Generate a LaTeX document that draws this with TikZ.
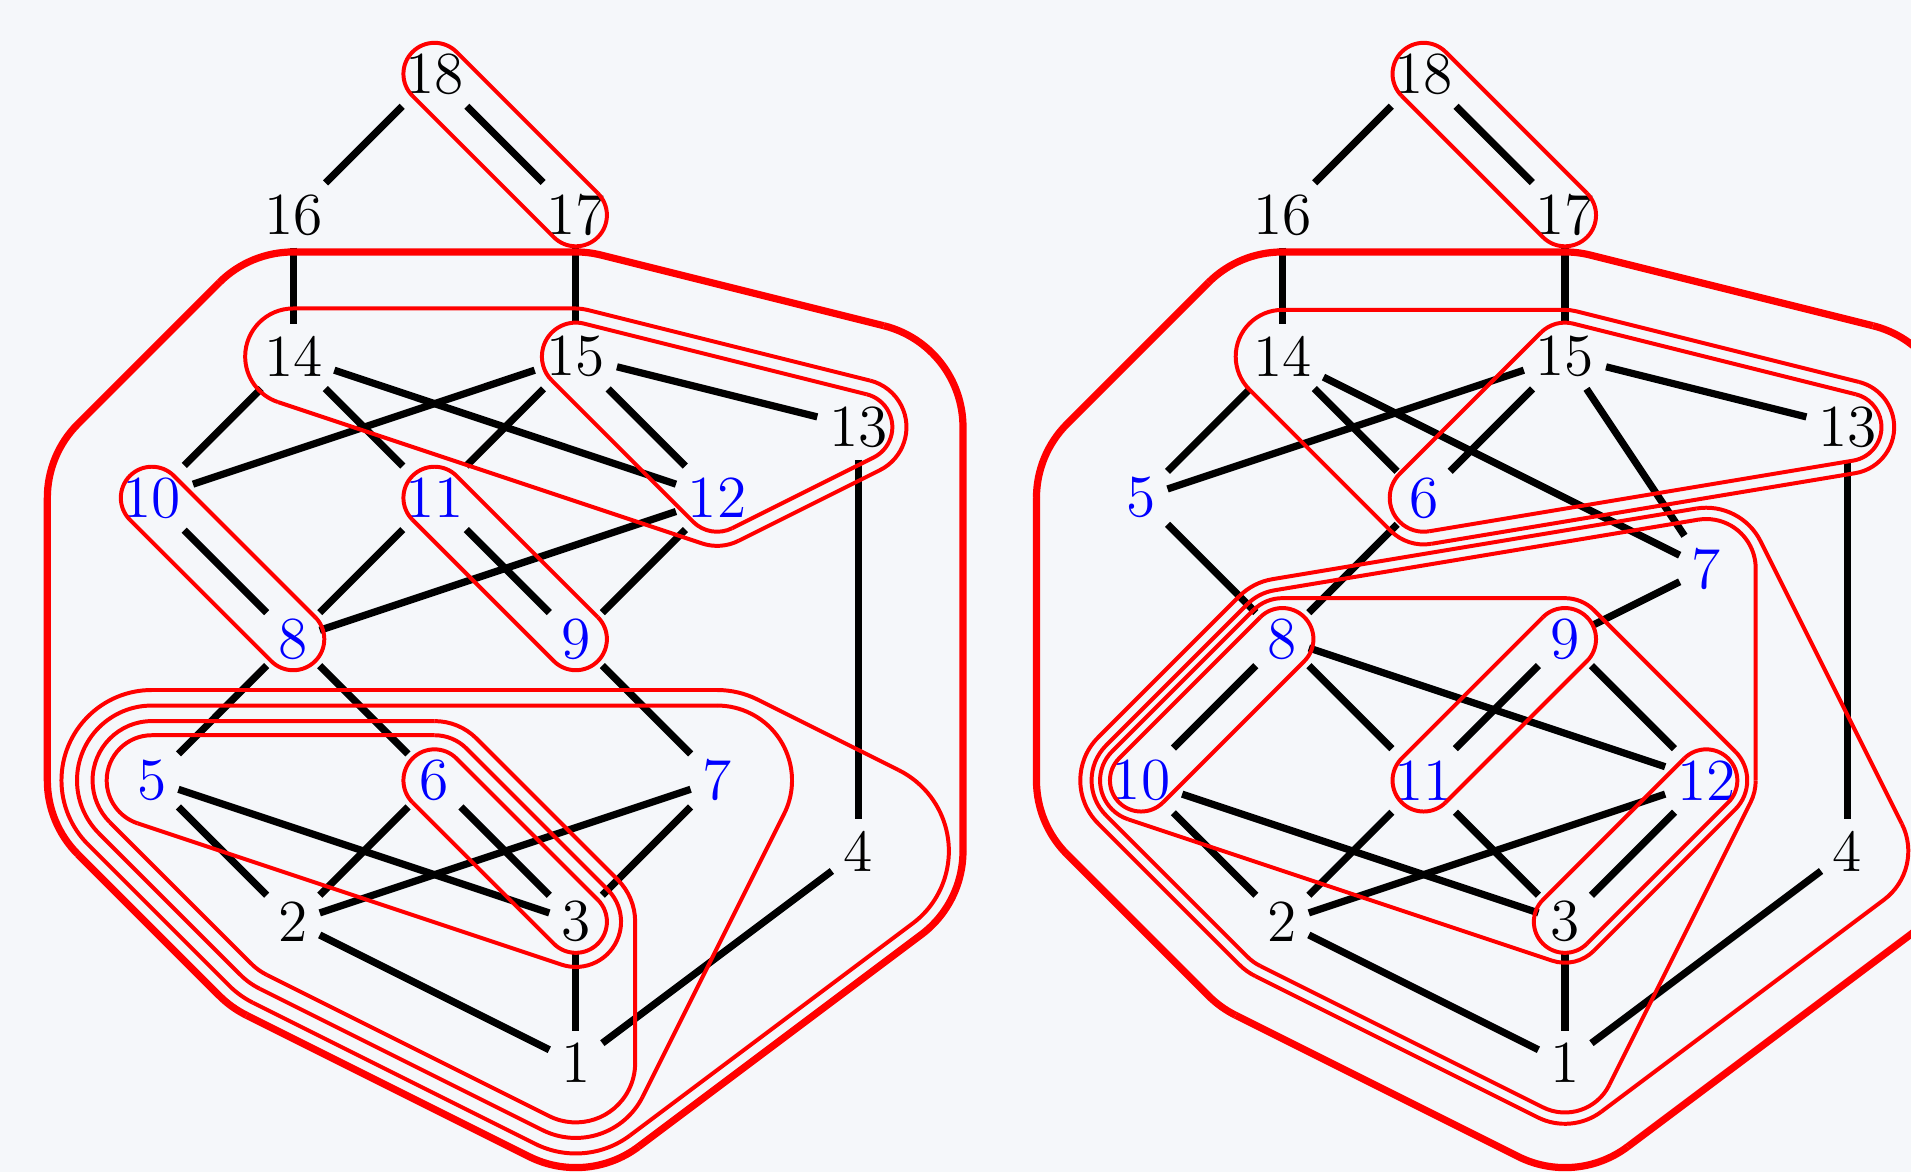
\documentclass[tikz,border=0pt]{standalone}
\usetikzlibrary{calc}
\definecolor{bgcol}{RGB}{245,247,250}

% rounded hull round nodes listed counter-clockwise: [style]{radius}{nodes}
\newcommand{\drawhull}[3][]{%
  \foreach \q [count=\i] in {#3} {\expandafter\xdef\csname hullpt\i\endcsname{\q}\xdef\hullsize{\i}}%
  \foreach \i in {1,...,\hullsize} {%
    \pgfmathtruncatemacro\j{mod(\i,\hullsize)+1}%
    \pgfmathtruncatemacro\k{mod(\i+1,\hullsize)+1}%
    \edef\ha{\csname hullpt\i\endcsname}%
    \edef\hb{\csname hullpt\j\endcsname}%
    \edef\hc{\csname hullpt\k\endcsname}%
    \draw[hullline,#1] let \p1=($(\hb.center)-(\ha.center)$), \p2=($(\hc.center)-(\hb.center)$),
      \n1={atan2(\y1,\x1)-90}, \n2={atan2(\y2,\x2)-90}, \n3={mod(\n2-(\n1)+720,360)} in
      ($(\ha.center)+(\n1:#2)$) -- ($(\hb.center)+(\n1:#2)$) arc[start angle=\n1, delta angle=\n3, radius=#2cm];
  }%
}

\begin{document}
\begin{tikzpicture}[
  link/.style={draw=black,line width=1.45pt},
  num/.style={font=\large,inner sep=2.2pt},
  blu/.style={num,text=blue},
  hullline/.style={draw=red,line width=0.8pt},
  outer/.style={line width=1.45pt},
]
\useasboundingbox (-0.075,-0.771) rectangle (13.449,7.523);
\fill[bgcol] (-0.075,-0.771) rectangle (13.449,7.523);

% left graph
\foreach \n/\x/\y in {1/4/0,2/2/1,3/4/1,4/6/1.5,13/6/4.5,14/2/5,15/4/5,16/2/6,17/4/6,18/3/7}
  \node[num] (l\n) at (\x,\y) {\n};
\foreach \n/\x/\y in {5/1/2,6/3/2,7/5/2,8/2/3,9/4/3,10/1/4,11/3/4,12/5/4}
  \node[blu] (l\n) at (\x,\y) {\n};
\foreach \a/\b in {18/16,18/17,16/14,17/15,14/10,14/11,14/12,15/10,15/11,15/12,15/13,13/4,
    10/8,11/9,11/8,12/8,12/9,8/5,8/6,9/7,5/2,5/3,6/2,6/3,7/2,7/3,2/1,3/1,4/1}
  \draw[link] (l\a) -- (l\b);

\drawhull{0.22}{l18,l17}
\drawhull{0.22}{l10,l8}
\drawhull{0.22}{l11,l9}
\drawhull{0.22}{l6,l3}
\drawhull{0.24}{l15,l12,l13}
\drawhull{0.34}{l14,l12,l13,l15}
\drawhull{0.32}{l5,l3,l6}
\drawhull{0.42}{l5,l2,l1,l3,l6}
\drawhull{0.53}{l5,l2,l1,l7}
\drawhull{0.64}{l5,l2,l1,l4,l7}
\drawhull[outer]{0.74}{l10,l5,l2,l1,l4,l13,l15,l14}

% right graph
\begin{scope}[xshift=7cm]
\foreach \n/\x/\y in {1/4/0,2/2/1,3/4/1,4/6/1.5,13/6/4.5,14/2/5,15/4/5,16/2/6,17/4/6,18/3/7}
  \node[num] (r\n) at (\x,\y) {\n};
\foreach \n/\x/\y in {5/1/4,6/3/4,7/5/3.5,8/2/3,9/4/3,10/1/2,11/3/2,12/5/2}
  \node[blu] (r\n) at (\x,\y) {\n};
\foreach \a/\b in {18/16,18/17,16/14,17/15,14/5,14/6,14/7,15/5,15/6,15/7,15/13,13/4,
    5/8,6/8,7/9,8/10,8/11,8/12,9/11,9/12,10/2,10/3,11/2,11/3,12/2,12/3,2/1,3/1,4/1}
  \draw[link] (r\a) -- (r\b);

\drawhull{0.22}{r18,r17}
\drawhull{0.22}{r8,r10}
\drawhull{0.22}{r9,r11}
\drawhull{0.22}{r12,r3}
\drawhull{0.24}{r15,r6,r13}
\drawhull{0.33}{r14,r6,r13,r15}
\drawhull{0.29}{r8,r10,r3,r12,r9}
\drawhull{0.35}{r8,r10,r2,r1,r12,r7}
\drawhull{0.43}{r8,r10,r2,r1,r4,r7}
\drawhull[outer]{0.74}{r5,r10,r2,r1,r4,r13,r15,r14}
\end{scope}
\end{tikzpicture}
\end{document}
